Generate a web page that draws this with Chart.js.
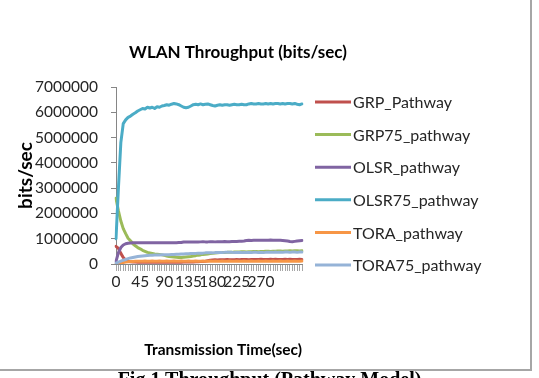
<!DOCTYPE html>
<html><head><meta charset="utf-8">
<script src="https://cdn.jsdelivr.net/npm/chart.js@4"></script>
<style>
html,body{margin:0;padding:0;background:#fff;overflow:hidden;}
#wrap{position:relative;width:539px;height:378px;}
#c{position:absolute;left:0;top:0;}
#cap{position:absolute;left:0;width:539px;top:367px;text-align:center;font:bold 20px "Liberation Serif";color:#000;white-space:nowrap;line-height:24px;}
</style></head><body>
<div id="wrap"><canvas id="c" width="539" height="378"></canvas><div id="cap">Fig.1 Throughput (Pathway Model)</div></div>
<script>
const times = [0,4.5,9,13.5,18,22.5,27,31.5,36,40.5,45,49.5,54,58.5,63,67.5,72,76.5,81,85.5,90,94.5,99,103.5,108,112.5,117,121.5,126,130.5,135,139.5,144,148.5,153,157.5,162,166.5,171,175.5,180,184.5,189,193.5,198,202.5,207,211.5,216,220.5,225,229.5,234,238.5,243,247.5,252,256.5,261,265.5,270,274.5,279,283.5,288,292.5,297,301.5,306,310.5,315,319.5,324,328.5,333,337.5,342,346.5];
const xTickLabels = [0,45,90,135,180,225,270];
const yTicks = [0,1000000,2000000,3000000,4000000,5000000,6000000,7000000];
const seriesNames = ['GRP_Pathway','GRP75_pathway','OLSR_pathway','OLSR75_pathway','TORA_pathway','TORA75_pathway'];

const grp = [700000,620000,420000,260000,160000,110000,90000,80000,75000,70000,
 70000,65000,70000,65000,70000,70000,65000,70000,70000,65000,
 70000,70000,75000,70000,70000,75000,70000,70000,75000,80000,
 75000,80000,80000,85000,90000,95000,100000,110000,130000,150000,
 160000,165000,160000,170000,165000,170000,175000,170000,165000,170000,
 175000,170000,175000,180000,175000,170000,175000,180000,175000,180000,
 185000,180000,175000,180000,185000,180000,185000,180000,175000,180000,
 185000,180000,185000,180000,175000,180000,185000,180000];
const grp75 = [2600000,2100000,1700000,1400000,1200000,1020000,920000,800000,720000,650000,
 600000,540000,500000,460000,440000,420000,400000,390000,380000,360000,
 340000,320000,300000,290000,280000,270000,260000,260000,270000,280000,
 290000,300000,320000,330000,350000,360000,380000,390000,400000,410000,
 420000,430000,440000,450000,450000,450000,460000,460000,460000,470000,
 470000,470000,480000,480000,470000,480000,480000,490000,490000,480000,
 490000,490000,500000,500000,490000,500000,500000,510000,510000,500000,
 510000,510000,520000,510000,520000,520000,510000,520000];
const olsr = [100000,450000,650000,750000,800000,820000,830000,840000,840000,840000,
 840000,840000,840000,845000,840000,840000,840000,845000,840000,840000,
 845000,840000,840000,845000,840000,845000,850000,850000,870000,875000,
 875000,870000,875000,875000,870000,875000,880000,875000,875000,880000,
 880000,875000,880000,880000,880000,885000,880000,880000,885000,885000,
 890000,895000,900000,910000,930000,935000,930000,935000,940000,935000,
 935000,940000,935000,940000,945000,940000,935000,940000,935000,930000,
 920000,910000,890000,880000,895000,910000,920000,930000];
const olsr75 = [1000000,3000000,4800000,5550000,5700000,5800000,5850000,5920000,5980000,6050000,
 6100000,6150000,6130000,6200000,6170000,6200000,6150000,6220000,6200000,6250000,
 6270000,6300000,6280000,6320000,6350000,6330000,6300000,6250000,6200000,6180000,
 6200000,6250000,6300000,6320000,6300000,6330000,6300000,6320000,6330000,6300000,
 6270000,6250000,6280000,6300000,6280000,6300000,6300000,6280000,6300000,6320000,
 6300000,6300000,6320000,6300000,6300000,6330000,6350000,6330000,6330000,6350000,
 6330000,6330000,6350000,6330000,6350000,6330000,6350000,6350000,6330000,6350000,
 6330000,6350000,6350000,6330000,6350000,6320000,6300000,6330000];
const tora = [0,20000,40000,60000,75000,85000,95000,100000,105000,110000,
 110000,110000,115000,110000,110000,115000,110000,110000,115000,110000,
 110000,115000,110000,110000,115000,110000,110000,115000,110000,110000,
 115000,110000,110000,115000,110000,110000,115000,110000,110000,115000,
 110000,115000,110000,110000,115000,110000,110000,115000,110000,110000,
 115000,110000,110000,115000,110000,110000,115000,110000,110000,115000,
 110000,110000,115000,110000,110000,115000,110000,110000,115000,110000,
 110000,115000,110000,110000,115000,110000,110000,115000];
const tora75 = [30000,70000,110000,150000,180000,210000,240000,260000,280000,300000,
 310000,320000,330000,340000,350000,350000,360000,360000,360000,370000,
 370000,370000,370000,380000,380000,390000,390000,400000,400000,410000,
 410000,420000,420000,420000,430000,430000,430000,440000,440000,440000,
 440000,450000,450000,450000,450000,460000,460000,460000,460000,450000,
 450000,450000,450000,460000,450000,450000,450000,460000,460000,450000,
 450000,450000,460000,460000,460000,460000,470000,460000,460000,460000,
 470000,470000,460000,470000,470000,460000,470000,470000];

const seriesValues = [grp, grp75, olsr, olsr75, tora, tora75];
const seriesColors = ['#c0504d','#9bbb59','#8064a2','#4bacc6','#f79646','#95b3d7'];

const FONT = 'Lato';
const TXT = '#262626';

const framePlugin = {
  id: 'frame',
  beforeDraw(chart) {
    const ctx = chart.ctx;
    ctx.save();
    ctx.fillStyle = '#fff';
    ctx.fillRect(0, 0, chart.width, chart.height);
    ctx.strokeStyle = '#a6a6a6';
    ctx.lineWidth = 2;
    ctx.beginPath();
    ctx.moveTo(531, 0); ctx.lineTo(531, 370);
    ctx.moveTo(0, 370); ctx.lineTo(532, 370);
    ctx.stroke();
    ctx.restore();
  }
};

const sideLegend = {
  id: 'sideLegend',
  afterDraw(chart) {
    const ctx = chart.ctx;
    ctx.save();
    chart.data.datasets.forEach((ds, i) => {
      const y = 102 + i * 32.6;
      ctx.strokeStyle = ds.borderColor;
      ctx.lineWidth = 3;
      ctx.lineCap = 'butt';
      ctx.beginPath();
      ctx.moveTo(315, y); ctx.lineTo(351, y);
      ctx.stroke();
      ctx.fillStyle = TXT;
      ctx.font = '16px ' + FONT;
      ctx.textBaseline = 'middle';
      ctx.textAlign = 'left';
      ctx.fillText(ds.label, 353, y + 1);
    });
    ctx.restore();
  }
};

new Chart(document.getElementById('c'), {
  type: 'line',
  data: {
    labels: times,
    datasets: seriesNames.map((name, i) => ({
      label: name,
      data: seriesValues[i],
      borderColor: seriesColors[i],
      backgroundColor: seriesColors[i],
      borderWidth: 3,
      pointRadius: 0,
      tension: 0,
      borderJoinStyle: 'round',
      borderCapStyle: 'round',
      order: seriesNames.length - i
    }))
  },
  options: {
    responsive: false,
    animation: false,
    layout: { padding: { left: 0, right: 63, top: 0, bottom: 18 } },
    plugins: {
      legend: { display: false },
      tooltip: { enabled: false },
      title: {
        display: true,
        text: 'WLAN Throughput (bits/sec)',
        color: '#000',
        font: { family: FONT, size: 17, weight: 'bold' },
        padding: { top: 42, bottom: 24.6 }
      }
    },
    scales: {
      x: {
        type: 'category',
        grid: { display: true, drawOnChartArea: false, drawTicks: true, tickLength: 7, color: '#a6a6a6', lineWidth: 1 },
        border: { display: true, color: '#868686', width: 1 },
        ticks: {
          autoSkip: false, maxRotation: 0, minRotation: 0, padding: 2,
          color: TXT, font: { family: FONT, size: 15.5 },
          callback: (v, i) => xTickLabels.includes(times[i]) ? String(times[i]) : ''
        },
        title: {
          display: true, text: 'Transmission Time(sec)', align: 'end', color: '#000',
          font: { family: FONT, size: 15.5, weight: 'bold' }, padding: { top: 0, bottom: 1 }
        },
        afterFit(s) { s.height = 96; }
      },
      y: {
        min: 0, max: 7000000,
        grid: { display: true, drawOnChartArea: false, drawTicks: true, tickLength: 5, color: '#868686' },
        border: { display: true, color: '#868686', width: 1 },
        afterBuildTicks(s) { s.ticks = yTicks.map(v => ({ value: v })); },
        ticks: {
          padding: 13, color: TXT, font: { family: FONT, size: 15.5 },
          callback: v => String(v)
        },
        title: {
          display: true, text: 'bits/sec', color: '#000',
          font: { family: FONT, size: 19, weight: 'bold' }, padding: { top: 14, bottom: 0 }
        },
        afterFit(s) { s.width = 116; }
      },
      yR: {
        type: 'linear', position: 'right', display: true,
        grid: { display: false }, border: { display: false }, ticks: { display: false },
        afterFit(s) { s.width = 174; }
      }
    }
  },
  plugins: [framePlugin, sideLegend]
});
</script>
</body></html>
